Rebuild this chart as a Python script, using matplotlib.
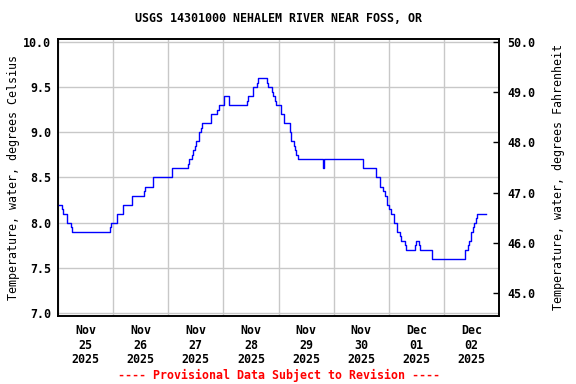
import matplotlib
matplotlib.use("Agg")
import matplotlib.pyplot as plt
import numpy as np
import pandas as pd

# water temperature trace, hours since 2025-11-25 00:00 and deg C
hours = [0.0, 1.9, 2.3, 4.0, 5.8, 6.2, 22.6, 23.0, 25.8, 28.4, 32.3, 37.5, 38.0, 41.4,
         49.7, 56.7, 57.1, 58.4, 58.8, 59.6, 60.0, 61.4, 62.2, 62.9, 66.5, 69.4, 69.9,
         72.3, 74.5, 82.3, 82.7, 84.9, 86.7, 87.1, 91.0, 91.4, 93.2, 93.6, 94.5, 94.9,
         97.0, 98.6, 101.2, 101.4, 102.7, 103.3, 103.8, 104.7, 115.3, 115.6, 116.0,
         132.7, 138.3, 140.0, 140.4, 141.4, 142.2, 143.3, 143.9, 144.8, 146.1, 147.5,
         149.0, 149.4, 150.9, 151.3, 155.3, 155.8, 157.1, 157.5, 162.7, 177.1, 178.4,
         178.8, 179.7, 180.6, 181.2, 182.0, 182.6, 186.4]
temp_c = [8.2, 8.15, 8.1, 8.0, 7.95, 7.9, 7.95, 8.0, 8.1, 8.2, 8.3, 8.35, 8.4, 8.5,
          8.6, 8.65, 8.7, 8.75, 8.8, 8.85, 8.9, 9.0, 9.05, 9.1, 9.2, 9.25, 9.3,
          9.4, 9.3, 9.35, 9.4, 9.5, 9.55, 9.6, 9.55, 9.5, 9.45, 9.4, 9.35, 9.3,
          9.2, 9.1, 9.0, 8.9, 8.85, 8.8, 8.75, 8.7, 8.6, 8.65, 8.7,
          8.6, 8.5, 8.45, 8.4, 8.35, 8.3, 8.2, 8.15, 8.1, 8.0, 7.9,
          7.85, 7.8, 7.75, 7.7, 7.75, 7.8, 7.75, 7.7, 7.6, 7.7, 7.75,
          7.8, 7.9, 7.95, 8.0, 8.05, 8.1, 8.1]

day_labels = ["Nov\n25\n2025", "Nov\n26\n2025", "Nov\n27\n2025", "Nov\n28\n2025",
              "Nov\n29\n2025", "Nov\n30\n2025", "Dec\n01\n2025", "Dec\n02\n2025"]
c_ticks = [7.0, 7.5, 8.0, 8.5, 9.0, 9.5, 10.0]
f_ticks = [45.0, 46.0, 47.0, 48.0, 49.0, 50.0]

start = pd.Timestamp("2025-11-25")
t = start + pd.to_timedelta(hours, unit="h")

fs = 8.4
plt.rcParams["font.family"] = "DejaVu Sans Mono"
plt.rcParams["font.weight"] = "bold"

fig = plt.figure(figsize=(5.76, 3.84), dpi=100)
ax = fig.add_axes([58 / 576, 1 - 316 / 384, 441 / 576, 277 / 384])

ax.plot(t, temp_c, drawstyle="steps-post", color="#0000ff", lw=1.0, zorder=3)

ylo, yhi = 6.967, 10.033
ax.set_ylim(ylo, yhi)
ax.set_xlim(start, start + pd.Timedelta(days=8))
ax.set_yticks(c_ticks)
ax.set_yticklabels([f"{v:.1f}" for v in c_ticks], fontsize=fs)

days = [start + pd.Timedelta(days=i) for i in range(9)]
noons = [start + pd.Timedelta(days=i, hours=12) for i in range(8)]
ax.set_xticks(days)
ax.set_xticklabels([])
ax.set_xticks(noons, minor=True)
ax.set_xticklabels(day_labels, minor=True, fontsize=fs, linespacing=1.15)
ax.tick_params(axis="x", which="both", length=0, pad=6)
ax.tick_params(axis="y", length=0, pad=5)
ax.grid(True, which="major", color="#c8c8c8", lw=1.0)
for s in ax.spines.values():
    s.set_linewidth(1.2)

ax.set_ylabel("Temperature, water, degrees Celsius", fontsize=fs, labelpad=2)

ax2 = ax.twinx()
ax2.set_ylim(ylo * 1.8 + 32, yhi * 1.8 + 32)
ax2.set_yticks(f_ticks)
ax2.set_yticklabels([f"{v:.1f}" for v in f_ticks], fontsize=fs)
ax2.tick_params(axis="y", direction="in", length=4, width=1.0, pad=6)
ax2.set_ylabel("Temperature, water, degrees Fahrenheit", fontsize=fs, labelpad=12)
for s in ax2.spines.values():
    s.set_linewidth(1.2)

fig.text(0.5 * (58 + 499) / 576, 1 - 19 / 384, "USGS 14301000 NEHALEM RIVER NEAR FOSS, OR",
         ha="center", va="center", fontsize=fs)
fig.text(0.5 * (58 + 499) / 576, 1 - 375 / 384, "---- Provisional Data Subject to Revision ----",
         ha="center", va="center", fontsize=fs, color="#ff0000")

fig.savefig("out.png", dpi=100)
